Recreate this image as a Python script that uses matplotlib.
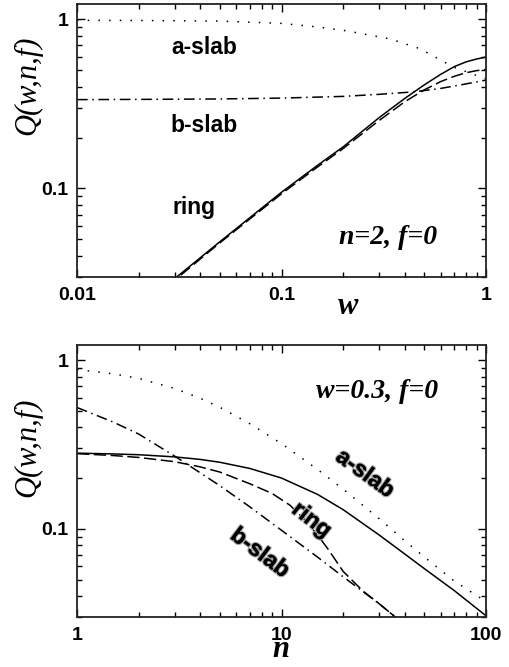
import matplotlib
matplotlib.use("Agg")
import matplotlib.pyplot as plt
import matplotlib.patheffects as pe
from matplotlib.ticker import FuncFormatter, NullFormatter, LogLocator

plt.rcParams["font.family"] = "Liberation Sans"
plt.rcParams["font.weight"] = "bold"

# top panel: Q vs w (n=2, f=0)
w_ring = [0.01, 0.02, 0.03, 0.05, 0.1, 0.15, 0.2, 0.3, 0.4, 0.5, 0.6, 0.7, 0.8, 0.9, 1.0]
q_ring_top = [0.0098, 0.0196, 0.0293, 0.0485, 0.095, 0.137, 0.176, 0.262, 0.34, 0.41, 0.472, 0.525, 0.56, 0.582, 0.598]
q_ring2_top = [0.0096, 0.0192, 0.0287, 0.0478, 0.093, 0.134, 0.172, 0.252, 0.325, 0.383, 0.428, 0.46, 0.483, 0.497, 0.505]

w_aslab = [0.01, 0.02, 0.05, 0.1, 0.15, 0.2, 0.25, 0.34, 0.475, 0.64, 0.7, 0.8, 0.9, 1.0]
q_aslab_top = [0.985, 0.983, 0.975, 0.945, 0.9, 0.86, 0.82, 0.765, 0.67, 0.55, 0.52, 0.49, 0.465, 0.445]

w_bslab = [0.01, 0.02, 0.05, 0.1, 0.2, 0.3, 0.44, 0.6, 0.8, 1.0]
q_bslab_top = [0.335, 0.336, 0.338, 0.342, 0.35, 0.36, 0.372, 0.39, 0.415, 0.437]

# bottom panel: Q vs n (w=0.3, f=0)
n_vals = [1, 1.5, 2, 3, 4, 5, 7, 10, 15, 20, 30, 40, 50, 70, 100]
q_aslab_bot = [0.88, 0.83, 0.78, 0.68, 0.595, 0.525, 0.42, 0.32, 0.225, 0.172, 0.115, 0.085, 0.068, 0.049, 0.037]
q_ring_bot = [0.281, 0.278, 0.275, 0.267, 0.258, 0.248, 0.228, 0.2, 0.16, 0.13, 0.092, 0.071, 0.058, 0.043, 0.0305]

n_ring2 = [1, 1.5, 2, 3, 4, 5, 7, 9, 11, 13, 15, 17, 20, 25, 30, 40]
q_ring2_bot = [0.279, 0.272, 0.265, 0.25, 0.233, 0.217, 0.185, 0.162, 0.138, 0.113, 0.092, 0.075, 0.056, 0.0428, 0.036, 0.027]

n_bslab = [1, 1.5, 2, 3, 4, 5, 7, 10, 15, 20, 30, 40]
q_bslab_bot = [0.524, 0.43, 0.365, 0.27, 0.215, 0.18, 0.135, 0.098, 0.068, 0.052, 0.036, 0.027]

W, H = 510, 667
fig = plt.figure(figsize=(W / 100, H / 100), dpi=100)
ax1 = fig.add_axes([77 / W, 1 - 277 / H, 409 / W, 273 / H])
ax2 = fig.add_axes([77 / W, 1 - 617 / H, 409 / W, 272 / H])

dot = (0, (1, 6))
dashdot = (0, (7, 3, 1, 3))
dash = (0, (8, 3))
lw = 1.1

ax1.plot(w_aslab, q_aslab_top, color="black", lw=lw, ls=dot)
ax1.plot(w_bslab, q_bslab_top, color="black", lw=lw, ls=dashdot)
ax1.plot(w_ring, q_ring2_top, color="black", lw=lw, ls=dash)
ax1.plot(w_ring, q_ring_top, color="black", lw=lw, ls="-")

ax2.plot(n_vals, q_aslab_bot, color="black", lw=lw, ls=dot)
ax2.plot(n_bslab, q_bslab_bot, color="black", lw=lw, ls=dashdot)
ax2.plot(n_ring2, q_ring2_bot, color="black", lw=lw, ls=dash)
ax2.plot(n_vals, q_ring_bot, color="black", lw=lw, ls="-")

fmt = FuncFormatter(lambda v, p: f"{v:g}")

for ax, xl in ((ax1, (0.01, 1)), (ax2, (1, 100))):
    ax.set_xscale("log")
    ax.set_yscale("log")
    ax.set_xlim(*xl)
    ax.set_ylim(0.03, 1.23)
    ax.xaxis.set_major_formatter(fmt)
    ax.yaxis.set_major_formatter(fmt)
    ax.xaxis.set_minor_formatter(NullFormatter())
    ax.yaxis.set_minor_formatter(NullFormatter())
    ax.yaxis.set_major_locator(LogLocator(base=10, numticks=10))
    ax.tick_params(which="both", direction="in", top=True, right=True, width=1,
                   labelsize=14)
    ax.tick_params(which="major", length=6)
    ax.tick_params(which="minor", length=3.5)
    ax.tick_params(axis="x", pad=7)
    ax.tick_params(axis="y", pad=6)
    for s in ax.spines.values():
        s.set_linewidth(1.3)
        s.set_color("#222222")

lab_font = dict(family="Liberation Sans", weight="bold", size=16.5)
ax1.text(0.029, 0.627, "a-slab", ha="left", va="baseline", **lab_font)
ax1.text(0.0285, 0.215, "b-slab", ha="left", va="baseline", **lab_font)
ax1.text(0.0294, 0.0711, "ring", ha="left", va="baseline", **lab_font)

shadow = [pe.withStroke(linewidth=1.8, foreground="#a0a0a0"), pe.Normal()]
ax2.text(25.6, 0.213, "a-slab", ha="center", va="center", rotation=-36,
         rotation_mode="anchor", path_effects=shadow, **lab_font)
ax2.text(14.05, 0.113, "ring", ha="center", va="center", rotation=-38,
         rotation_mode="anchor", path_effects=shadow, **lab_font)
ax2.text(7.85, 0.0722, "b-slab", ha="center", va="center", rotation=-37,
         rotation_mode="anchor", path_effects=shadow, **lab_font)

note_font = dict(family="Liberation Serif", weight="bold", style="italic", size=20)
ax1.text(0.575, 0.0473, "n=2, f=0", ha="right", va="baseline", **note_font)
ax2.text(58.2, 0.60, "w=0.3, f=0", ha="right", va="baseline", **note_font)

ylab_font = dict(family="Liberation Serif", style="italic", weight="normal", size=22)
fig.text(28 / W, 1 - 85 / H, "Q(w,n,f)", rotation=90, ha="center", va="center", **ylab_font)
fig.text(28 / W, 1 - 447 / H, "Q(w,n,f)", rotation=90, ha="center", va="center", **ylab_font)

xlab_font = dict(family="Liberation Serif", style="italic", weight="bold", size=22)
fig.text(348 / W, 1 - 314 / H, "w", ha="center", va="baseline", **xlab_font)
fig.text(281 / W, 1 - 657 / H, "n", ha="center", va="baseline", **xlab_font)

fig.savefig("out.png", dpi=100)
